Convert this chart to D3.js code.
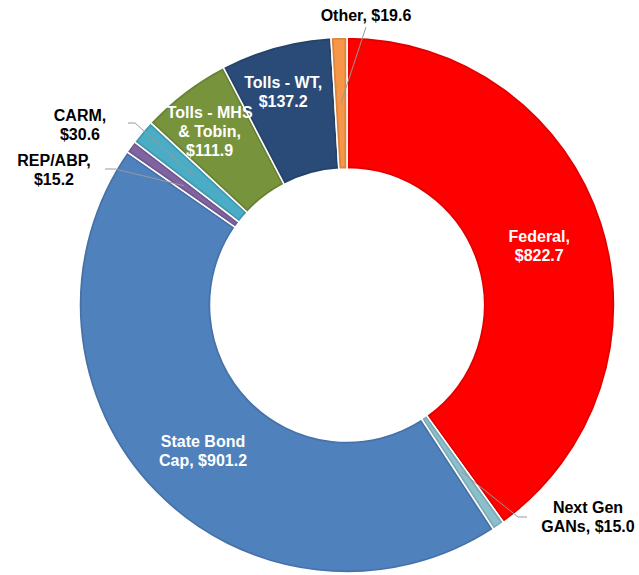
<!DOCTYPE html>
<html>
<head>
<meta charset="utf-8">
<script src="https://cdn.jsdelivr.net/npm/d3@7"></script>
<style>
    body { margin: 0; background: #fff; }
    svg { display: block; }
    text { font-family: 'Liberation Sans', Arial, sans-serif; font-weight: bold; font-size: 16px; }
</style>
</head>
<body>
<svg></svg>
<script>
const width = 639;
const height = 575;

// slices, clockwise from 12 o'clock
const categories = ['Federal', 'Next Gen GANs', 'State Bond Cap', 'REP/ABP', 'CARM', 'Tolls - MHS & Tobin', 'Tolls - WT', 'Other'];
const values = [822.7, 15.0, 901.2, 15.2, 30.6, 111.9, 137.2, 19.6];
const colors = ['#ff0000', '#8bbfcc', '#4f81bd', '#8064a2', '#4bacc6', '#77933c', '#2a4b77', '#f79646'];
const labelLines = [
    ['Federal,', '$822.7'],
    ['Next Gen', 'GANs, $15.0'],
    ['State Bond', 'Cap, $901.2'],
    ['REP/ABP,', '$15.2'],
    ['CARM,', '$30.6'],
    ['Tolls - MHS', '& Tobin,', '$111.9'],
    ['Tolls - WT,', '$137.2'],
    ['Other, $19.6']
];

// label placement: inside labels sit near the centroid, outside ones get a leader line
const labelPlacement = {
    'Federal': { inside: true, dx: 0, dy: 3 },
    'State Bond Cap': { inside: true, dx: 1, dy: 5 },
    'Tolls - MHS & Tobin': { inside: true, dx: -15, dy: -13 },
    'Tolls - WT': { inside: true, dx: -10, dy: -19 },
    'Next Gen GANs': { x: 588, y: 513, leader: [[527, 517], [518, 517]] },
    'REP/ABP': { x: 54, y: 166, leader: [[105, 169], [115, 169]] },
    'CARM': { x: 80, y: 121, leader: [[128, 123], [135, 123]] },
    'Other': { x: 366, y: 21, leader: [[366, 27]] }
};

const cx = 347, cy = 305;
const outerR = 268, innerR = 136;
const lineH = 19;

const renderChart = () => {
    const svg = d3.select('svg')
        .attr('width', width)
        .attr('height', height);

    const g = svg.append('g')
        .attr('transform', `translate(${cx},${cy})`);

    const pie = d3.pie().sort(null).value(d => d.value);
    const arcs = pie(categories.map((c, i) => ({ name: c, value: values[i], color: colors[i], lines: labelLines[i] })));

    const arc = d3.arc().innerRadius(innerR).outerRadius(outerR);
    const innerArc = d3.arc()
        .innerRadius(innerR + 2.5)
        .outerRadius(outerR - 2.5)
        .padRadius(outerR)
        .padAngle(5 / outerR);

    // darker rim with white separators
    g.selectAll('.rim')
        .data(arcs)
        .enter().append('path')
        .attr('class', 'rim')
        .attr('d', arc)
        .attr('fill', d => d3.color(d.data.color).darker(0.35))
        .attr('stroke', '#fff')
        .attr('stroke-width', 1.5);

    g.selectAll('.slice')
        .data(arcs)
        .enter().append('path')
        .attr('class', 'slice')
        .attr('d', innerArc)
        .attr('fill', d => d.data.color);

    // leader lines for outside labels
    const line = d3.line();
    arcs.forEach(d => {
        const p = labelPlacement[d.data.name];
        if (p.inside) return;
        const c = arc.centroid(d);
        const pts = p.leader.map(q => [q[0] - cx, q[1] - cy]).concat([c]);
        g.append('path')
            .attr('d', line(pts))
            .attr('fill', 'none')
            .attr('stroke', '#999')
            .attr('stroke-width', 1);
    });

    // labels
    arcs.forEach(d => {
        const p = labelPlacement[d.data.name];
        const n = d.data.lines.length;
        let x, y0, fill;
        if (p.inside) {
            const c = arc.centroid(d);
            x = cx + c[0] + p.dx;
            const midY = cy + c[1] + p.dy;
            y0 = midY - (n - 1) * lineH / 2 + 5.7;
            fill = '#fff';
        } else {
            x = p.x;
            y0 = p.y;
            fill = '#000';
        }
        const t = svg.append('text')
            .attr('text-anchor', 'middle')
            .attr('fill', fill);
        d.data.lines.forEach((s, i) => {
            t.append('tspan')
                .attr('x', x)
                .attr('y', y0 + i * lineH)
                .text(s);
        });
    });
};

document.addEventListener('DOMContentLoaded', () => {
    renderChart();
});
</script>
</body>
</html>
